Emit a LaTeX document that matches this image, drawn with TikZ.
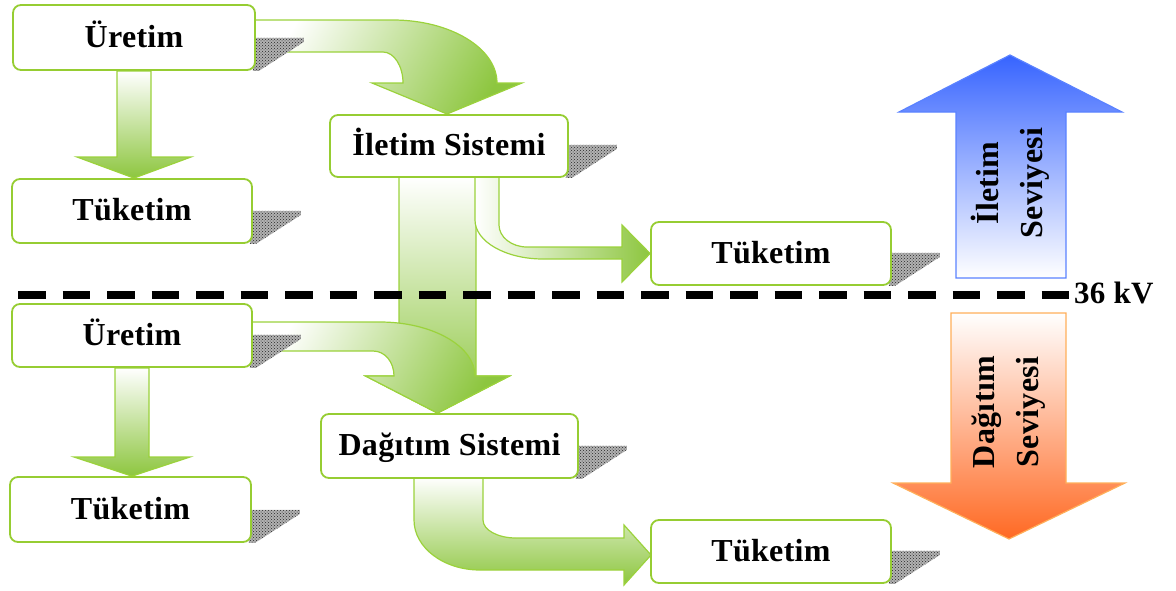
\documentclass[tikz,border=0pt]{standalone}
\usepackage{fontspec}
\setmainfont{Liberation Serif}[LetterSpace=1]
\usetikzlibrary{calc,patterns}

\definecolor{boxline}{RGB}{150,205,50}
\definecolor{arrowgreen}{RGB}{141,198,63}
\definecolor{arrowline}{RGB}{155,210,60}
\definecolor{levelblue}{RGB}{55,100,255}
\definecolor{blueline}{RGB}{90,130,255}
\definecolor{levelorange}{RGB}{255,105,35}
\definecolor{orangeline}{RGB}{255,175,90}

\pgfdeclarelayer{background}
\pgfsetlayers{background,main}

% perspective shadow behind the lower right corner of a box
\newcommand\boxshadow[1]{%
  \path[shadowfill] ($(#1.south east)+(-3,-33)$) -- ($(#1.south east)+(48,-33)$)
    -- ($(#1.south east)+(48,-29)$) -- ($(#1.south east)+(3,0)$)
    -- ($(#1.south east)+(-3,0)$) -- cycle;}

\begin{document}
\begin{tikzpicture}[x=1pt,y=-1pt,
  box/.style={draw=boxline, line width=1.8pt, rounded corners=8pt, fill=white,
    minimum width=240pt, minimum height=64pt, inner sep=0pt,
    text height=24pt, text depth=5pt,
    font=\fontsize{32}{38}\selectfont\bfseries},
  gdown/.style={draw=arrowline, line width=1.2pt, top color=white, bottom color=arrowgreen},
  gbend/.style={draw=arrowline, line width=1.2pt, top color=white, bottom color=arrowgreen, shading angle=60},
  gright/.style={draw=arrowline, line width=1.2pt, left color=white, right color=arrowgreen},
  shadowfill/.style={preaction={fill=gray!60}, pattern=crosshatch dots, pattern color=black!85},
  levellabel/.style={rotate=90, align=center, inner sep=0pt,
    font=\fontsize{32}{44}\selectfont\bfseries},
  divider/.style={line width=8pt, dash pattern=on 27.5pt off 17pt},
  kvlabel/.style={inner sep=0pt, font=\fontsize{31}{36}\selectfont\bfseries}]
\useasboundingbox (0,0) rectangle (1176,590);

% boxes
\node[box, minimum width=242pt, minimum height=65pt] (u1) at (134,37.5) {Üretim};
\node[box] (t1) at (132,211) {Tüketim};
\node[box, minimum height=63pt] (u2) at (132,335.5) {Üretim};
\node[box, minimum width=241pt, minimum height=65pt] (t2) at (130.5,509.5) {Tüketim};
\node[box, minimum width=238pt, minimum height=62pt] (il) at (449,146) {İletim Sistemi};
\node[box, minimum height=63pt] (t3) at (771,253.5) {Tüketim};
\node[box, minimum width=257pt] (dg) at (449.5,446) {Dağıtım Sistemi};
\node[box, minimum height=63pt] (t4) at (771,551.5) {Tüketim};

% level labels
\node[levellabel] (ilvl) at (1010,183) {İletim\\Seviyesi};
\node[levellabel] (dlvl) at (1009,412) {Dağıtım\\Seviyesi};

% voltage boundary
\node[kvlabel, anchor=west] (kv) at (1074,292.5) {36 kV};
\coordinate (dstart) at (18,295);
\draw[divider] (dstart) -- (dstart -| kv.west);

\begin{pgfonlayer}{background}
  % straight arrows from generation to consumption
  \path[gdown] (u1.south) ++(-17,0) -- ++(34,0) -- (151,157) -- (191,157)
    -- (u1.south |- t1.north) -- (77,157) -- (117,157) -- cycle;
  \path[gdown] (u2.south) ++(-17,0) -- ++(34,0) -- (149,457) -- (190,457)
    -- (u2.south |- t2.north) -- (74,457) -- (115,457) -- cycle;
  % transmission down to distribution
  \coordinate (dgtip) at (437.5,0 |- dg.north);
  \path[gdown] (399,177) -- (476,177) -- (476,376) -- (509.5,376) -- (dgtip)
    -- (365.5,376) -- (399,376) -- cycle;
  % bent arrow: generation into transmission
  \path[gbend] (253,20) -- (393,20) .. controls (450,20) and (497,48) .. (497,83)
    -- (522,83) -- (447,114) -- (372,83) -- (403,83)
    .. controls (403,66) and (394,52) .. (383,52) -- (253,52) -- cycle;
  % bent arrow: generation into distribution
  \path[gbend] (250,322) -- (380,322) .. controls (432,322) and (475,346) .. (475,376)
    -- (509.5,376) -- (dgtip) -- (365.5,376) -- (394,376)
    .. controls (394,362) and (385,351) .. (373,351) -- (250,351) -- cycle;
  % bent arrow: transmission to consumption
  \path[gright] (475,176) -- (475,220) .. controls (475,241.5) and (505.5,259) .. (543,259)
    -- (622,259) -- (622,282) -- (t3.west) -- (622,225) -- (622,247) -- (527,247)
    .. controls (511.5,247) and (499,237) .. (499,225) -- (499,176) -- cycle;
  % bent arrow: distribution to consumption
  \path[gdown] (414,477) -- (414,520) .. controls (414,547.6) and (443.6,570) .. (480,570)
    -- (624,570) -- (624,585) -- (651,555) -- (624,525) -- (624,538) -- (516,538)
    .. controls (497.8,538) and (483,530) .. (483,520) -- (483,477) -- cycle;

  % shadows
  \boxshadow{u1}\boxshadow{t1}\boxshadow{u2}\boxshadow{t2}
  \boxshadow{il}\boxshadow{t3}\boxshadow{dg}\boxshadow{t4}

  % level arrows
  \path[draw=blueline, line width=1.2pt, top color=levelblue, bottom color=white]
    (956,278) -- (956,112) -- (899,112) -- (1010,55) -- (1122,112) -- (1066,112)
    -- (1066,278) -- cycle;
  \path[draw=orangeline, line width=1.2pt, top color=white, bottom color=levelorange]
    (951,313) -- (1066,313) -- (1066,483) -- (1125,483) -- (1009,539) -- (893,483)
    -- (951,483) -- cycle;
\end{pgfonlayer}
\end{tikzpicture}
\end{document}
